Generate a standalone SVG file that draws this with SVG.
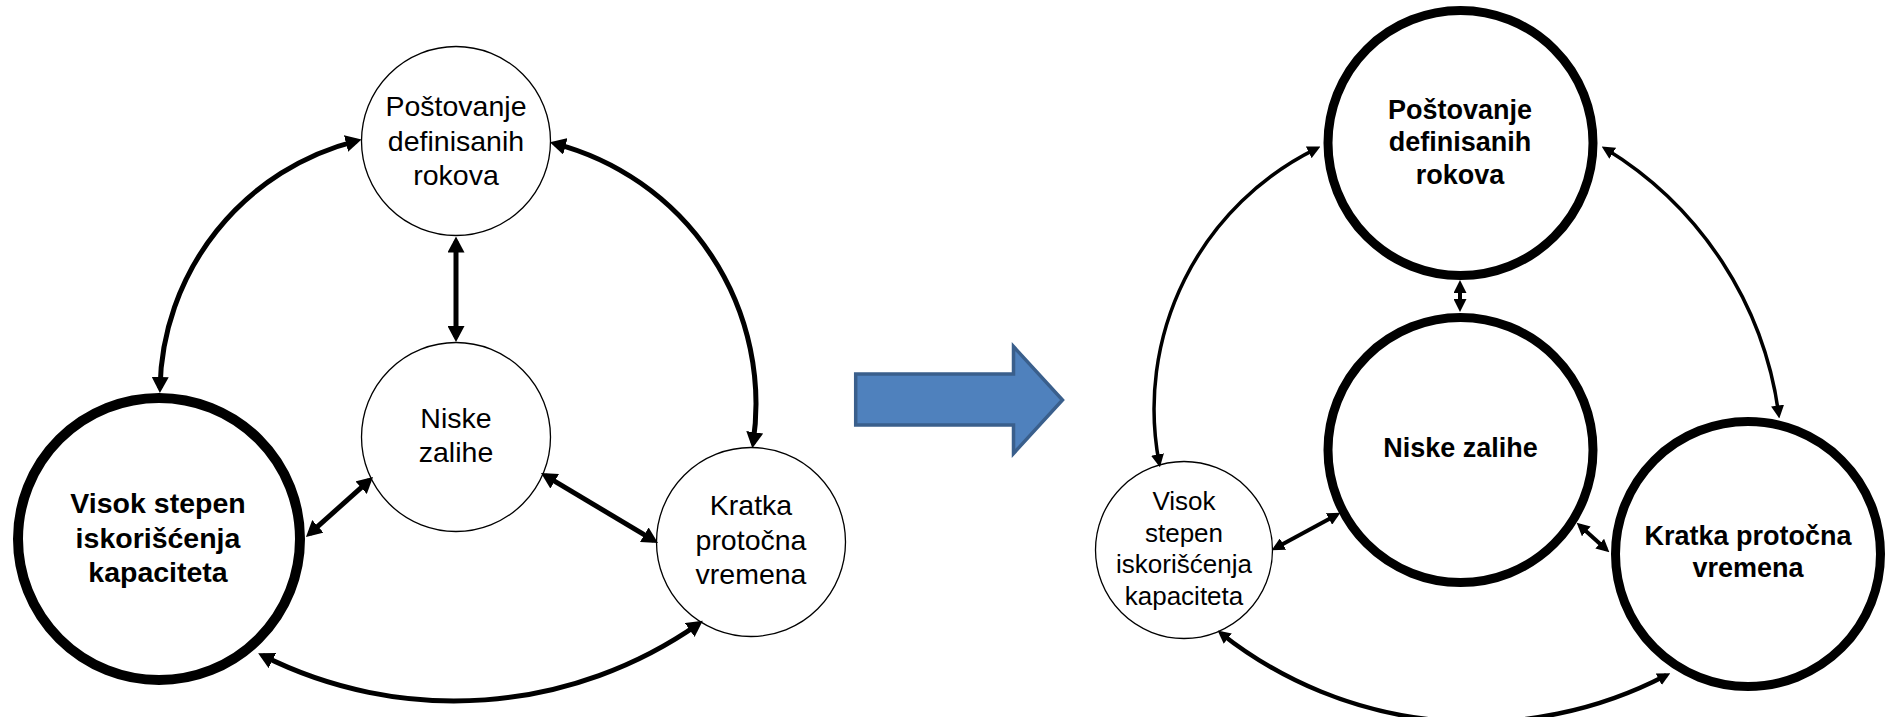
<svg xmlns="http://www.w3.org/2000/svg" width="1890" height="717" viewBox="0 0 1890 717">
<style>
.bg{fill:#ffffff}
.thin{fill:#ffffff;stroke:#000000;stroke-width:1.3}
.thick{fill:#ffffff;stroke:#000000;stroke-width:9}
.thicker{fill:#ffffff;stroke:#000000;stroke-width:10}
.t{font-family:"Liberation Sans",Arial,sans-serif;fill:#000000;text-anchor:middle}
.r28{font-size:28.5px}
.r26{font-size:26px}
.b27{font-size:27px;font-weight:bold}
.b28{font-size:28.5px;font-weight:bold}
.cl{fill:none;stroke:#000000;stroke-width:5;marker-start:url(#ahL);marker-end:url(#ahL)}
.cr{fill:none;stroke:#000000;stroke-width:3.5;marker-start:url(#ahR);marker-end:url(#ahR)}
.cr4{fill:none;stroke:#000000;stroke-width:4;marker-start:url(#ahR);marker-end:url(#ahR)}
.cr45{fill:none;stroke:#000000;stroke-width:4.5;marker-start:url(#ahR);marker-end:url(#ahR)}
</style>
<defs>
<marker id="ahL" markerUnits="userSpaceOnUse" viewBox="0 0 16 17" markerWidth="16" markerHeight="17" refX="11" refY="8.5" orient="auto-start-reverse"><path d="M0,0 L16,8.5 L0,17 z" fill="#000000"/></marker>
<marker id="ahR" markerUnits="userSpaceOnUse" viewBox="0 0 13 13" markerWidth="13" markerHeight="13" refX="8.5" refY="6.5" orient="auto-start-reverse"><path d="M0,0 L13,6.5 L0,13 z" fill="#000000"/></marker>
</defs>
<rect class="bg" x="0" y="0" width="1890" height="717"/>

<g id="left-top">
<circle class="thin" cx="456" cy="141" r="94.5"/>
<text class="t r28" x="456" y="116">Poštovanje</text>
<text class="t r28" x="456" y="151">definisanih</text>
<text class="t r28" x="456" y="185">rokova</text>
</g>
<g id="left-middle">
<circle class="thin" cx="456" cy="437" r="94.5"/>
<text class="t r28" x="456" y="428">Niske</text>
<text class="t r28" x="456" y="462">zalihe</text>
</g>
<g id="left-visok">
<circle class="thicker" cx="159" cy="539" r="141"/>
<text class="t b28" x="158" y="513">Visok stepen</text>
<text class="t b28" x="158" y="548">iskorišćenja</text>
<text class="t b28" x="158" y="582">kapaciteta</text>
</g>
<g id="left-kratka">
<circle class="thin" cx="751" cy="542" r="94.5"/>
<text class="t r28" x="751" y="515">Kratka</text>
<text class="t r28" x="751" y="549.5">protočna</text>
<text class="t r28" x="751" y="584">vremena</text>
</g>

<g id="transition-arrow">
<polygon points="855.7,374 1013.5,374 1013.5,346.5 1062.5,400 1013.5,453.5 1013.5,425 855.7,425" fill="#4F81BD" stroke="#3A5F8C" stroke-width="3.5" stroke-linejoin="miter"/>
</g>

<g id="right-top">
<circle class="thick" cx="1460.5" cy="143" r="132.5"/>
<text class="t b27" x="1460" y="119">Poštovanje</text>
<text class="t b27" x="1460" y="151">definisanih</text>
<text class="t b27" x="1460" y="184">rokova</text>
</g>
<g id="right-middle">
<circle class="thick" cx="1460.5" cy="450" r="132.5"/>
<text class="t b27" x="1460.5" y="457">Niske zalihe</text>
</g>
<g id="right-visok">
<circle class="thin" cx="1184" cy="550" r="88.5"/>
<text class="t r26" x="1184" y="510">Visok</text>
<text class="t r26" x="1184" y="541.7">stepen</text>
<text class="t r26" x="1184" y="573.3">iskorišćenja</text>
<text class="t r26" x="1184" y="605">kapaciteta</text>
</g>
<g id="right-kratka">
<circle class="thick" cx="1748" cy="554" r="132.5"/>
<text class="t b27" x="1748" y="545">Kratka protočna</text>
<text class="t b27" x="1748" y="577">vremena</text>
</g>

<g id="connectors">
<path class="cl" d="M456,241.5 L456,337"/>
<path class="cl" d="M369.3,480.3 L309.7,533.7"/>
<path class="cl" d="M545.3,475.6 L653.7,540.4"/>
<path class="cl" d="M160,388 A260,260 0 0 1 356.7,140.8"/>
<path class="cl" d="M554.7,143.6 A269,269 0 0 1 753.1,443.2"/>
<path class="cl" d="M262.6,655.6 A426,426 0 0 0 698.7,623.7"/>

<path class="cr4" d="M1460,284.5 L1460,307.5"/>
<path class="cr4" d="M1336.5,514.9 L1275.5,548.1"/>
<path class="cr4" d="M1580,525.7 L1606,549.3"/>
<path class="cr" d="M1316.4,148.6 A290,290 0 0 0 1159.1,462.9"/>
<path class="cr" d="M1605.5,148.8 A368,368 0 0 1 1778.7,414"/>
<path class="cr45" d="M1221.1,633.4 A411,411 0 0 0 1666.3,675.3"/>
</g>
</svg>
